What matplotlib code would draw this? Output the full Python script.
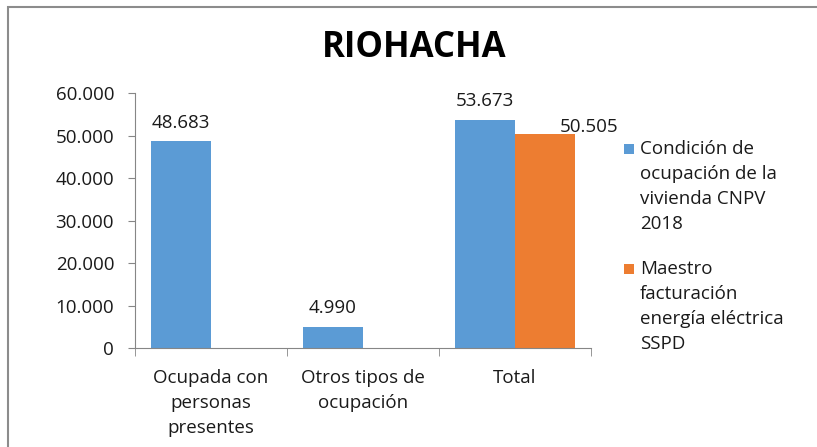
import matplotlib
matplotlib.use("Agg")
import matplotlib.pyplot as plt
from matplotlib.patches import Rectangle
import numpy as np

categories = ["Ocupada con\npersonas\npresentes", "Otros tipos de\nocupación", "Total"]
series_names = ["Condición de\nocupación de la\nvivienda CNPV\n2018",
                "Maestro\nfacturación\nenergía eléctrica\nSSPD"]
cnpv = [48683, 4990, 53673]
sspd = [np.nan, np.nan, 50505]
yticks = [0, 10000, 20000, 30000, 40000, 50000, 60000]
ytick_labels = ["0", "10.000", "20.000", "30.000", "40.000", "50.000", "60.000"]
title = "RIOHACHA"

blue = "#5B9BD5"
orange = "#ED7D31"
axis_col = "#868686"
txt_col = "#1a1a1a"
FS = 13.5

plt.rcParams['font.family'] = ['Open Sans', 'DejaVu Sans']

fig = plt.figure(figsize=(8.17, 4.47), dpi=100)
fig.patch.set_facecolor("white")
# chart border (top and left edges visible in the crop)
fig.patches.append(Rectangle((0.0095, -0.1), 1.2, 1.084, transform=fig.transFigure,
                             fill=False, edgecolor="#8c8c8c", linewidth=1.5))

ax = fig.add_axes([0.1652, 0.2215, 0.5581, 0.5698])
x = np.arange(len(categories))
w = 0.395
b1 = ax.bar(x - w / 2, cnpv, w, color=blue)
b2 = ax.bar(x + w / 2, sspd, w, color=orange)

def fmt(v):
    return f"{int(v):,}".replace(",", ".")

for xi, v in zip(x - w / 2, cnpv):
    if not np.isnan(v):
        ax.annotate(fmt(v), (xi, v), xytext=(0, 7), textcoords="offset points",
                    ha="center", va="bottom", fontsize=FS, color=txt_col)
for xi, v in zip(x + w / 2, sspd):
    if not np.isnan(v):
        ax.annotate(fmt(v), (xi + 0.29, v), xytext=(0, -2), textcoords="offset points",
                    ha="center", va="bottom", fontsize=FS, color=txt_col)

ax.set_xlim(-0.5, 2.5)
ax.set_ylim(0, 60000)
ax.set_yticks(yticks)
ax.set_yticklabels(ytick_labels, fontsize=FS, color=txt_col)
ax.set_xticks(x)
ax.set_xticklabels(categories, fontsize=FS, color=txt_col, linespacing=1.5)
ax.set_xticks([-0.5, 0.5, 1.5, 2.5], minor=True)
ax.tick_params(axis="x", which="major", length=0, pad=15)
ax.tick_params(axis="x", which="minor", length=6, color=axis_col, direction="out")
ax.tick_params(axis="y", length=5, color=axis_col, pad=10)
for s in ["top", "right"]:
    ax.spines[s].set_visible(False)
ax.spines["left"].set_color(axis_col)
ax.spines["bottom"].set_color(axis_col)

fig.text(0.507, 0.893, title, ha="center", va="center", fontsize=25, fontweight="bold", color="black")

# legend: square aligned to first line of each wrapped label
W, H = fig.get_size_inches() * fig.dpi
leg_items = [(series_names[0], blue, 148), (series_names[1], orange, 268)]
for name, col, ytop in leg_items:
    fig.patches.append(Rectangle((624 / W, 1 - (ytop + 6) / H), 10 / W, 10 / H,
                                 transform=fig.transFigure, facecolor=col, edgecolor="none"))
    fig.text(640 / W, 1 - (ytop - 8) / H, name, ha="left", va="top", fontsize=FS,
             color=txt_col, linespacing=1.5)

fig.savefig("out.png", dpi=100, facecolor="white")
